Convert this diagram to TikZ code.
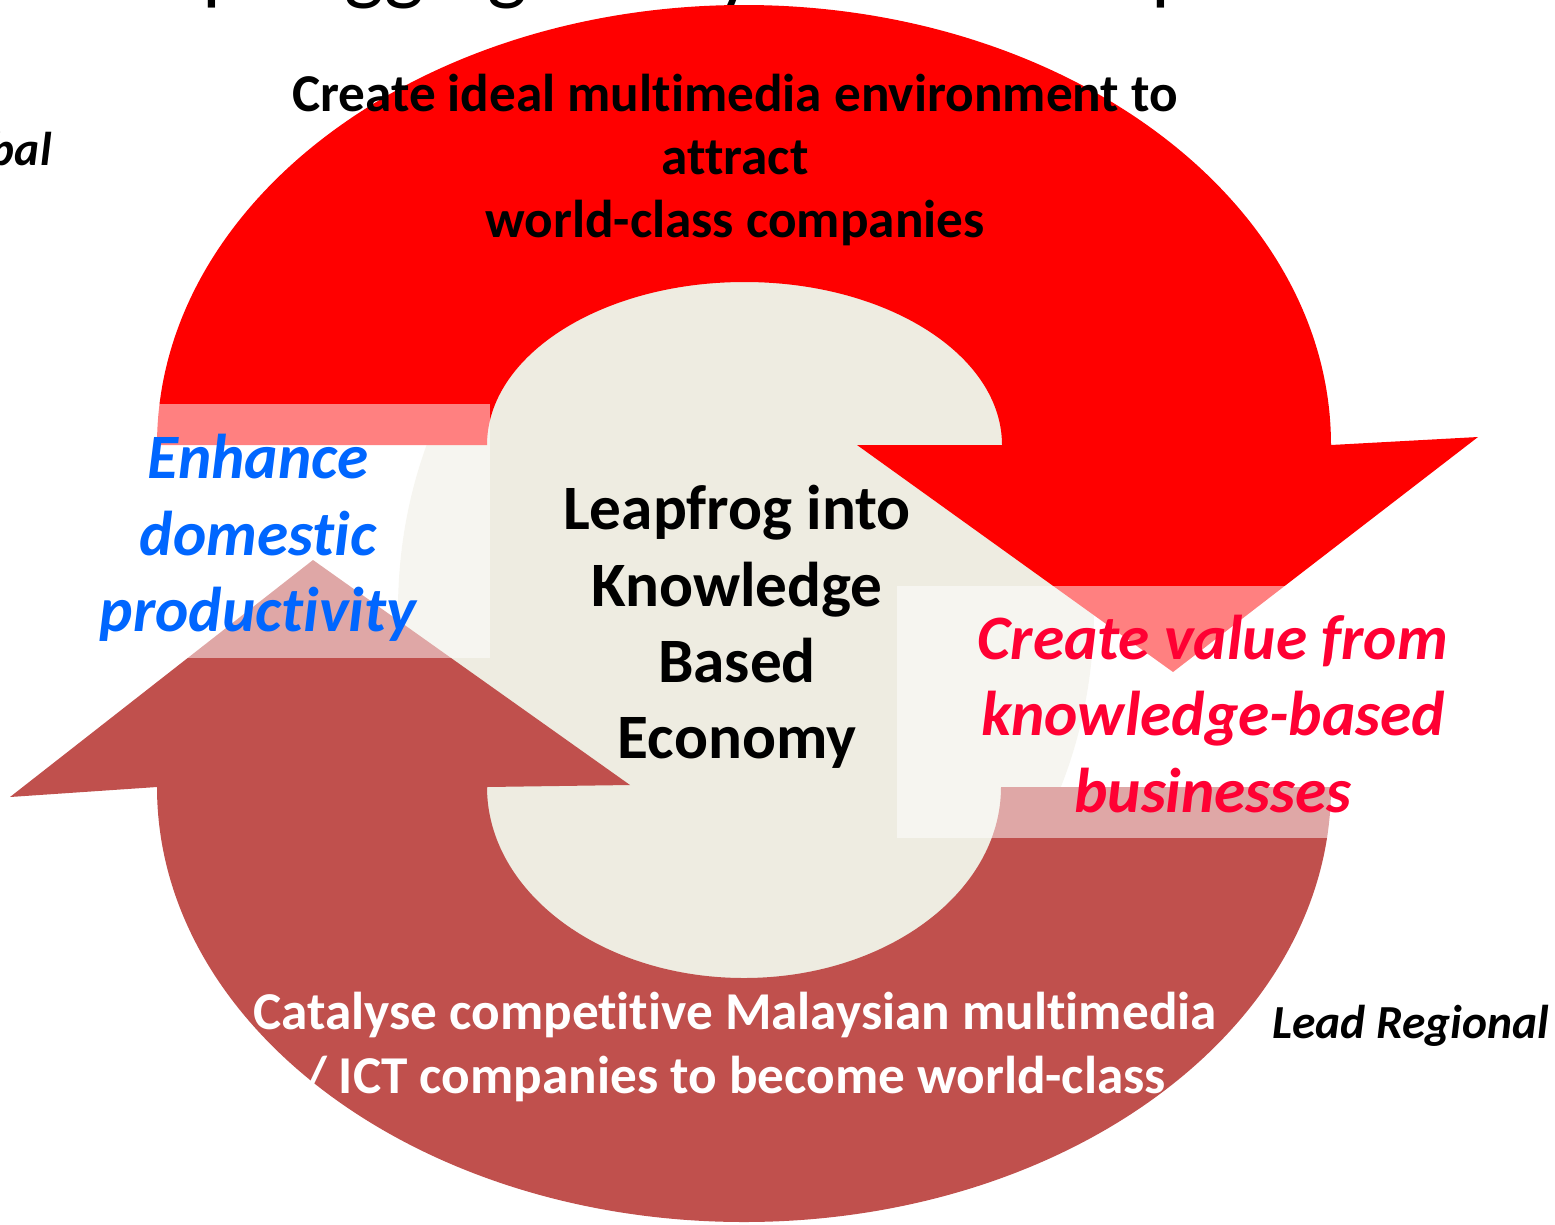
\documentclass[tikz,border=0pt]{standalone}
\usepackage{fontspec}
\setmainfont{Carlito}[Ligatures=NoCommon]

\definecolor{cyclered}{HTML}{FF0000}
\definecolor{cyclebrown}{HTML}{C0504D}
\definecolor{hubtan}{HTML}{EEECE1}
\definecolor{boostblue}{HTML}{0066FF}
\definecolor{valuered}{HTML}{FF0033}

\tikzset{
  hubtext/.style={font=\fontsize{36}{43.5}\selectfont\bfseries, align=center, inner sep=0pt},
  sidetext/.style={font=\fontsize{36}{43.5}\selectfont\bfseries\itshape, align=center, inner sep=0pt},
  armtext/.style={font=\fontsize{30.3}{36}\selectfont\bfseries, align=center, inner sep=0pt},
  haze/.style={fill=white, fill opacity=0.5},
}

\begin{document}
\begin{tikzpicture}[x=0.02cm,y=-0.02cm]
\useasboundingbox (0,0) rectangle (1555,1224);

\node[anchor=base west, inner sep=0pt, font=\fontsize{48}{58}\selectfont] (title) at (84,-6) {Leapfrogging Malaysia's Development};

% hub behind the two arrows
\fill[hubtan] (746,610) ellipse [x radius=348, y radius=415];

% upper arrow, turning clockwise
\fill[cyclered] (157,445) arc[start angle=180, end angle=360, x radius=587, y radius=440]
  -- (1478,437) -- (1173,672) -- (857,445) -- (1002,445)
  arc[start angle=360, end angle=180, x radius=257.5, y radius=163] -- cycle;

% lower arrow
\fill[cyclebrown] (1331,787) arc[start angle=0, end angle=180, x radius=587, y radius=435]
  -- (10,797) -- (313,560) -- (630,785) -- (487,787)
  arc[start angle=180, end angle=0, x radius=257, y radius=191] -- cycle;

% text boxes
\fill[haze] (100,404) rectangle (490,658);
\fill[haze] (897,586) rectangle (1460,838);

\node[armtext] (attract) at (735,160) {Create ideal multimedia environment to\\attract\\world-class companies};
\node[armtext, text=white] (catalyse) at (735,1047) {Catalyse competitive Malaysian multimedia\\/ ICT companies to become world-class};
\node[hubtext] (hub) at (737,627) {Leapfrog into\\Knowledge\\Based\\Economy};
\node[sidetext, text=boostblue] (enhance) at (258,538) {Enhance\\domestic\\productivity};
\node[sidetext, text=valuered] (value) at (1213,714) {Create value from\\knowledge-based\\businesses};

\node[anchor=base west, inner sep=0pt, font=\fontsize{27}{33}\selectfont\bfseries\itshape] (regional) at (1272,1038) {Lead Regional};
\node[anchor=base east, inner sep=0pt, font=\fontsize{27}{33}\selectfont\bfseries\itshape] (global) at (52,165) {Lead Global};
\end{tikzpicture}
\end{document}
